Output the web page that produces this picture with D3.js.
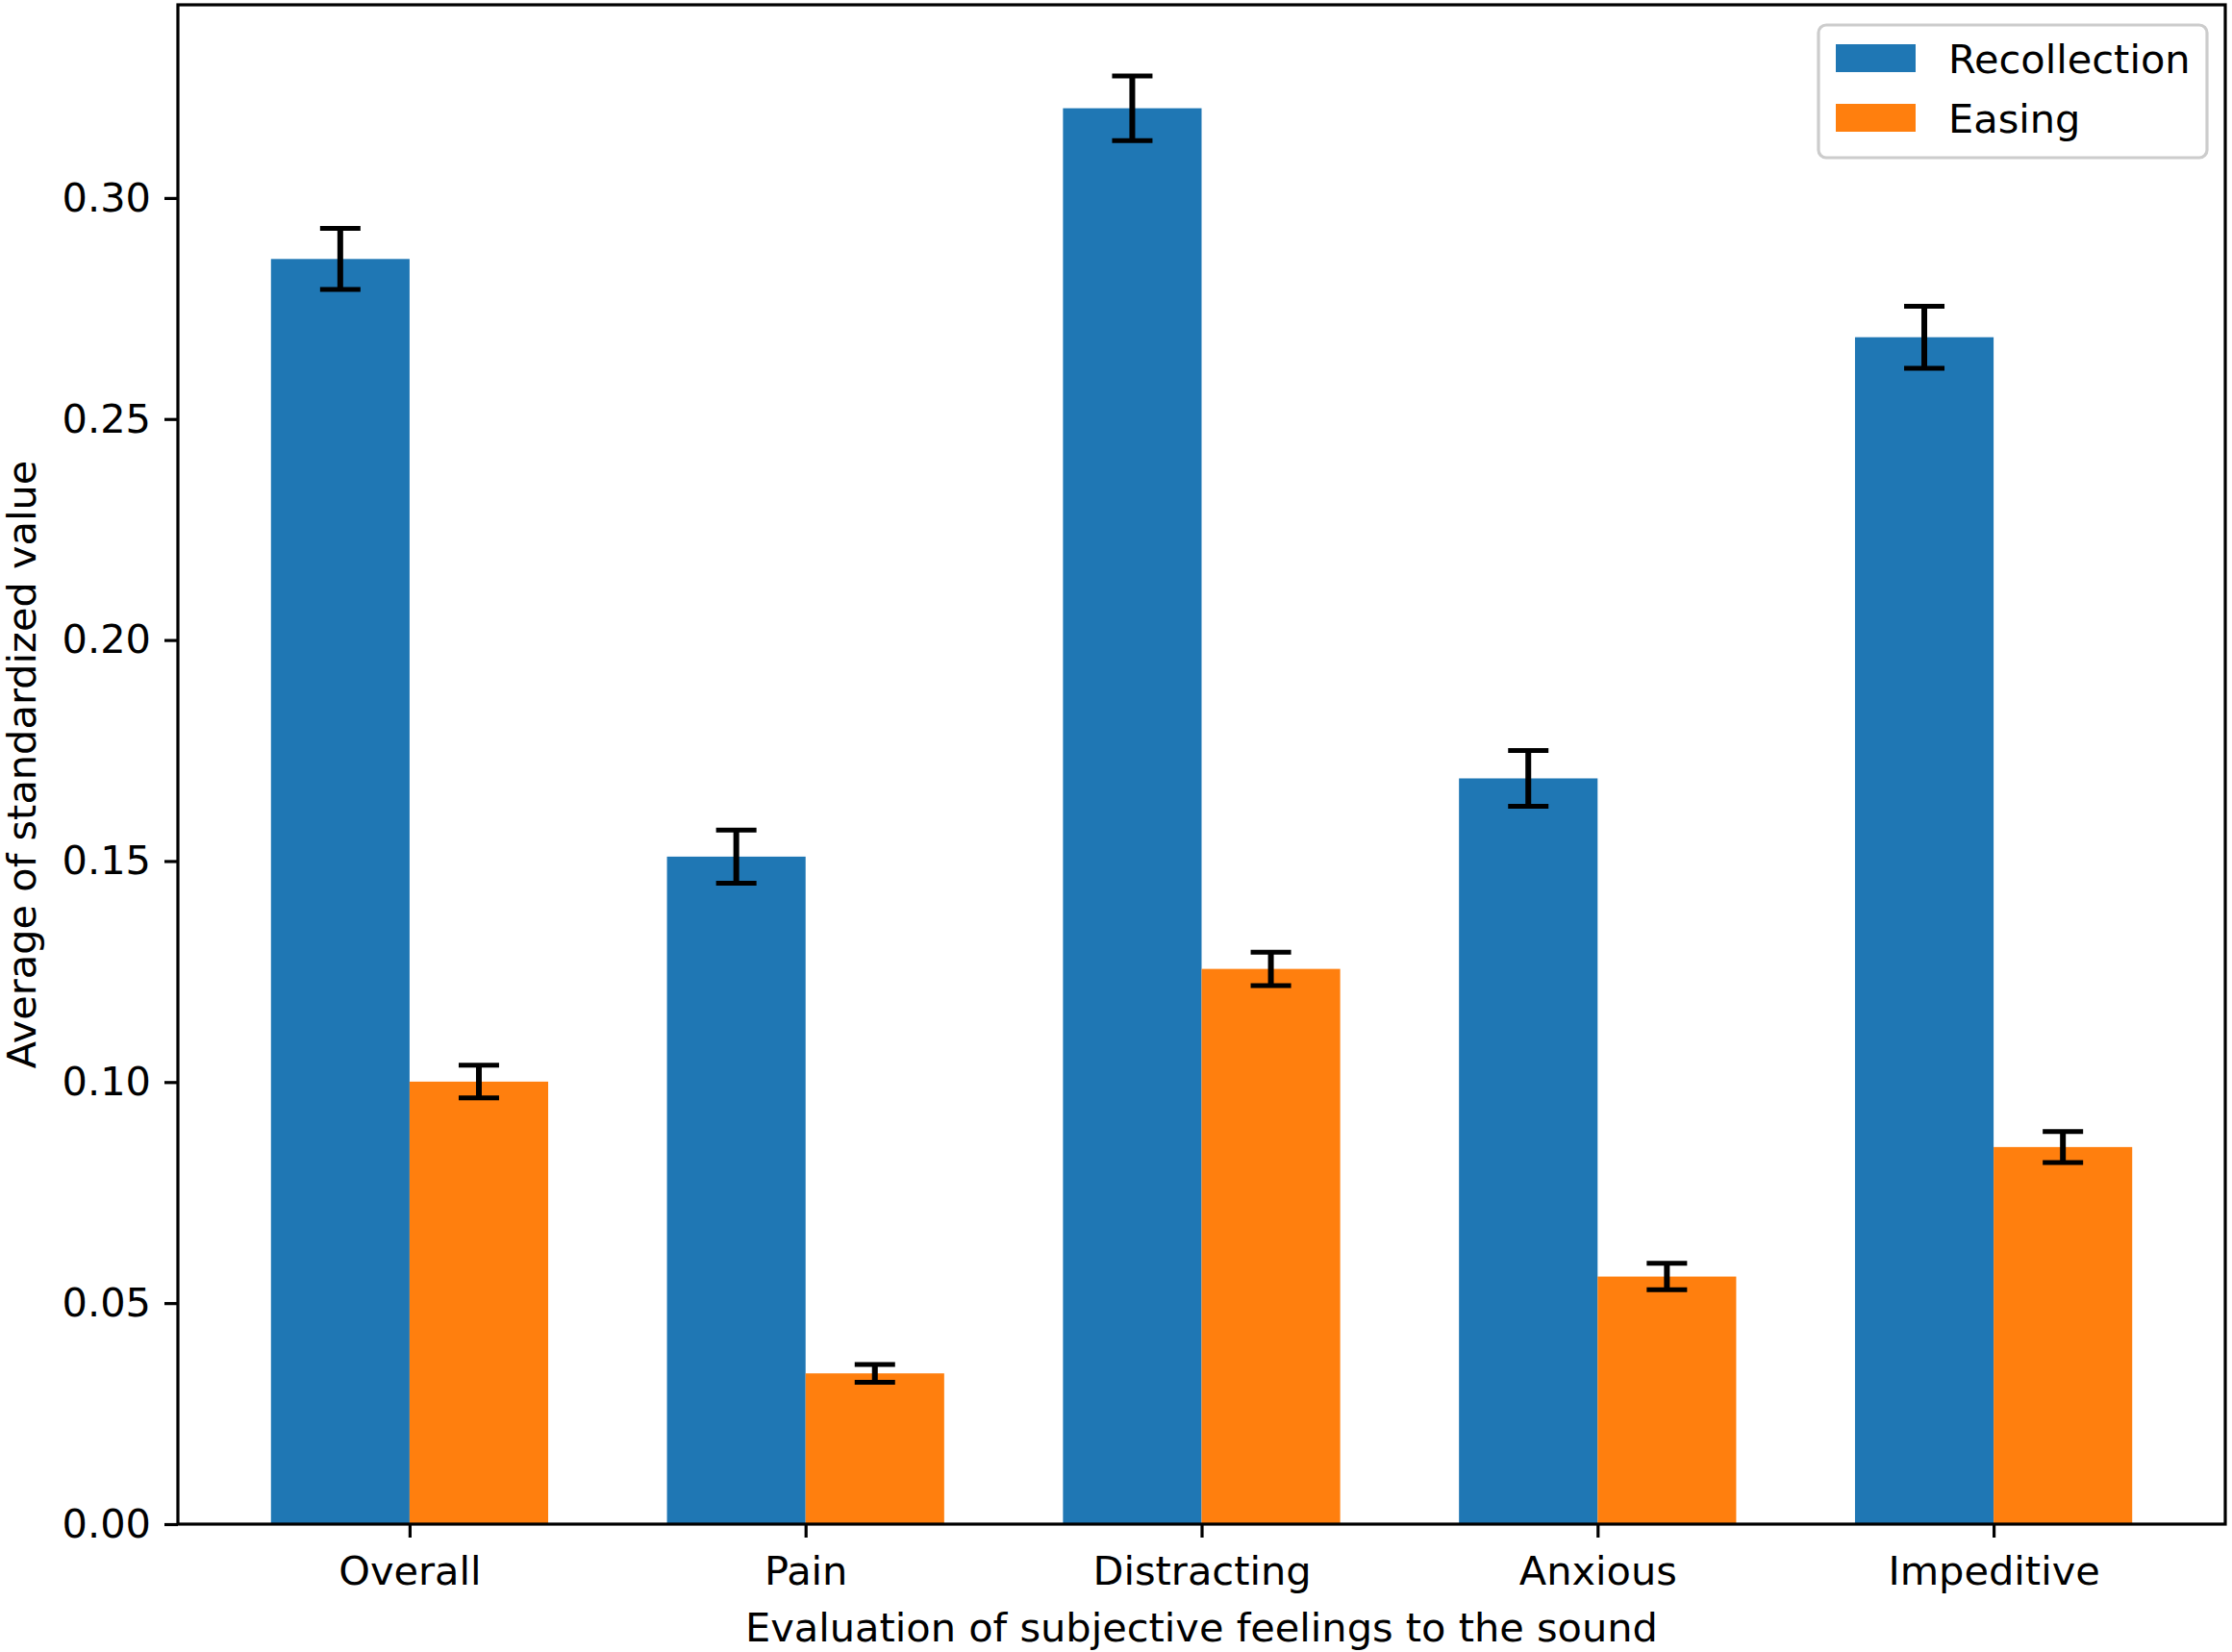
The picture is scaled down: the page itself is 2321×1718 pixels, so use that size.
<!DOCTYPE html>
<html>
<head>
<meta charset="utf-8">
<script src="https://cdn.jsdelivr.net/npm/d3@7"></script>
<style>
  body { margin: 0; background: #fff; }
  text { font-family: "DejaVu Sans", sans-serif; fill: #000; }
</style>
</head>
<body>
<div class="article"></div>
<script>
var categories = ['Overall', 'Pain', 'Distracting', 'Anxious', 'Impeditive'];
var seriesNames = ['Recollection', 'Easing'];
var recollection = [0.2862, 0.1510, 0.3203, 0.1687, 0.2685];
var recollectionErr = [0.0069, 0.0060, 0.0073, 0.0063, 0.0070];
var easing = [0.1001, 0.0341, 0.1256, 0.0560, 0.0853];
var easingErr = [0.0037, 0.0020, 0.0038, 0.0030, 0.0035];
var yTicks = [0.00, 0.05, 0.10, 0.15, 0.20, 0.25, 0.30];
var colors = ['#1f77b4', '#ff7f0e'];

function drawChart()
{
	var width = 2321;
	var height = 1718;
	var left = 185, right = 2314, top = 5, bottom = 1585;
	var barW = 0.35;
	var fs = 41.5;

	var svg = d3.select(".article").append("svg").attr("width", width).attr("height", height);

	var x = d3.scaleLinear().domain([-0.585, 4.585]).range([left, right]);
	var y = d3.scaleLinear().domain([0, 0.3437]).range([bottom, top]);

	var series = [
		{ name: seriesNames[0], vals: recollection, errs: recollectionErr, off: -barW / 2, color: colors[0] },
		{ name: seriesNames[1], vals: easing, errs: easingErr, off: barW / 2, color: colors[1] }
	];

	series.forEach(function(s) {
		var rows = s.vals.map(function(v, i) { return { i: i, v: v, e: s.errs[i] }; });
		svg.append("g").selectAll("rect").data(rows).enter().append("rect").
		attr("x", function(d) { return x(d.i + s.off - barW / 2); }).
		attr("y", function(d) { return y(d.v); }).
		attr("width", x(barW) - x(0)).
		attr("height", function(d) { return y(0) - y(d.v); }).
		attr("fill", s.color);
	});

	// error bars drawn after all bars
	series.forEach(function(s) {
		var rows = s.vals.map(function(v, i) { return { i: i, v: v, e: s.errs[i] }; });
		var g = svg.append("g").attr("stroke", "#000").attr("fill", "none");
		var eb = g.selectAll("g").data(rows).enter().append("g");
		eb.append("line").
		attr("x1", function(d) { return x(d.i + s.off); }).
		attr("x2", function(d) { return x(d.i + s.off); }).
		attr("y1", function(d) { return y(d.v - d.e); }).
		attr("y2", function(d) { return y(d.v + d.e); }).
		attr("stroke-width", 6);
		[-1, 1].forEach(function(sign) {
			eb.append("line").
			attr("x1", function(d) { return x(d.i + s.off) - 21; }).
			attr("x2", function(d) { return x(d.i + s.off) + 21; }).
			attr("y1", function(d) { return y(d.v + sign * d.e); }).
			attr("y2", function(d) { return y(d.v + sign * d.e); }).
			attr("stroke-width", 5);
		});
	});

	// axes
	var yAxis = d3.axisLeft(y).tickValues(yTicks).tickFormat(d3.format(".2f")).tickSizeOuter(0).tickSize(14).tickPadding(14);
	var gy = svg.append("g").attr("transform", "translate(" + left + ",0)").call(yAxis);
	var xAxis = d3.axisBottom(x).tickValues(d3.range(categories.length)).tickFormat(function(d) { return categories[d]; }).tickSizeOuter(0).tickSize(14).tickPadding(18);
	var gx = svg.append("g").attr("transform", "translate(0," + bottom + ")").call(xAxis);

	[gx, gy].forEach(function(g) {
		g.select(".domain").remove();
		g.selectAll(".tick line").attr("stroke", "#000").attr("stroke-width", 3.2);
		g.selectAll(".tick text").style("font-size", fs + "px").attr("fill", "#000");
	});
	gx.selectAll(".tick text").attr("dy", "0.75em");

	// spines
	svg.append("rect").attr("x", left).attr("y", top).attr("width", right - left).attr("height", bottom - top).
	attr("fill", "none").attr("stroke", "#000").attr("stroke-width", 3.2);

	// labels
	svg.append("text").attr("x", (left + right) / 2).attr("y", 1707).attr("text-anchor", "middle").
	style("font-size", fs + "px").text("Evaluation of subjective feelings to the sound");
	svg.append("text").attr("transform", "translate(37," + (top + bottom) / 2 + ") rotate(-90)").attr("text-anchor", "middle").
	style("font-size", fs + "px").text("Average of standardized value");

	// legend
	var lg = svg.append("g");
	lg.append("rect").attr("x", 1891).attr("y", 26).attr("width", 404).attr("height", 138).attr("rx", 8).
	attr("fill", "#fff").attr("fill-opacity", 0.8).attr("stroke", "#cccccc").attr("stroke-width", 3.2);
	series.forEach(function(s, k) {
		lg.append("rect").attr("x", 1909).attr("y", 46 + k * 62).attr("width", 83).attr("height", 29).attr("fill", s.color);
		lg.append("text").attr("x", 2026).attr("y", 76 + k * 62).style("font-size", fs + "px").text(s.name);
	});
}

drawChart();
</script>
</body>
</html>
